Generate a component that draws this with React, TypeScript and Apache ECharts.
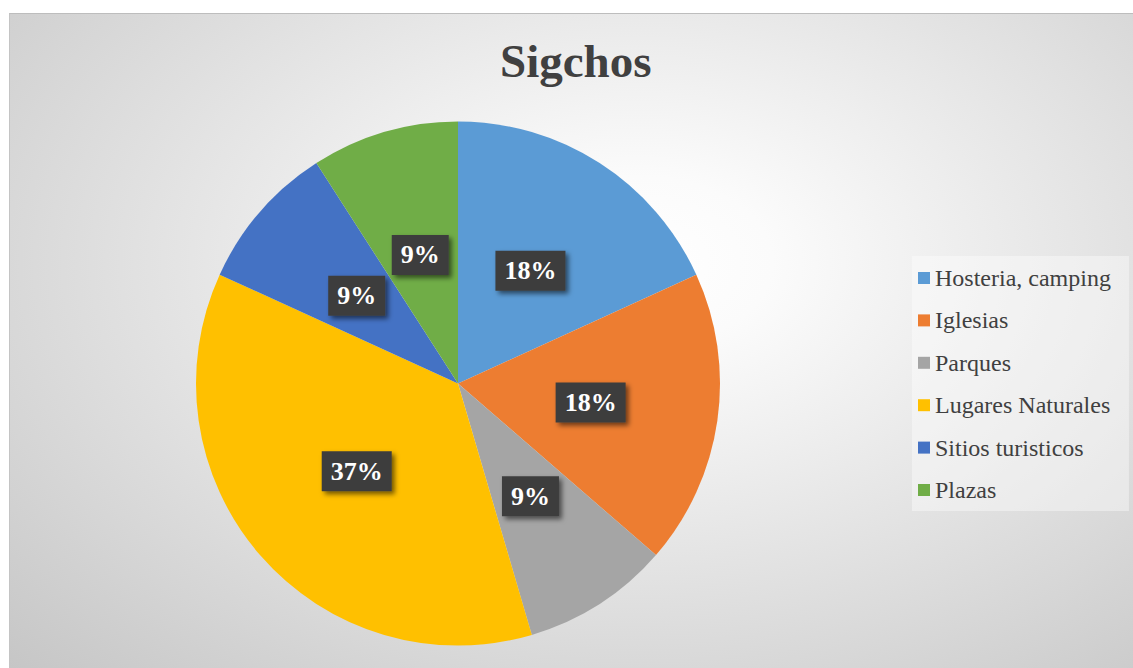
import React, { useEffect, useRef } from "react";
import * as echarts from "echarts";

const categories = ["Hosteria, camping", "Iglesias", "Parques", "Lugares Naturales", "Sitios turisticos", "Plazas"];
const values = [18.2, 18.2, 9.1, 36.4, 9.1, 9.1];
const percentLabels = ["18%", "18%", "9%", "37%", "9%", "9%"];
const colors = ["#5B9BD5", "#ED7D31", "#A5A5A5", "#FFC000", "#4472C4", "#70AD47"];
const titleText = "Sigchos";

export default function App() {
  const ref = useRef<HTMLDivElement>(null);
  useEffect(() => {
    if (!ref.current) return;
    const chart = echarts.init(ref.current, null, { renderer: "svg" });
    const data = categories.map((name, i) => ({ name, value: values[i], itemStyle: { color: colors[i] } }));
    chart.setOption({
      animation: false,
      backgroundColor: "transparent",
      title: {
        text: titleText,
        left: 490,
        top: 23,
        padding: 0,
        textStyle: { fontFamily: "Liberation Serif", fontWeight: "bold", fontSize: 47, color: "#404040", lineHeight: 47 },
      },
      legend: {
        orient: "vertical",
        left: 902,
        top: 242,
        padding: [10, 18, 9, 6],
        backgroundColor: "rgba(255,255,255,0.4)",
        itemWidth: 12,
        itemHeight: 12,
        itemGap: 18.4,
        icon: "rect",
        selectedMode: false,
        textStyle: { fontFamily: "Liberation Serif", fontSize: 24, color: "#404040", lineHeight: 24, padding: [0, 0, 0, 0] },
        data: categories,
      },
      series: [
        {
          type: "pie",
          center: [448, 369.5],
          radius: [0, 262],
          startAngle: 90,
          clockwise: true,
          silent: true,
          data,
          itemStyle: { borderWidth: 0 },
          label: {
            show: true,
            position: "inside",
            formatter: (p: any) => percentLabels[p.dataIndex],
            fontFamily: "Liberation Serif",
            fontWeight: "bold",
            fontSize: 26,
            lineHeight: 26,
            color: "#ffffff",
            backgroundColor: "#3d3d3d",
            padding: [7, 9, 7, 9],
            shadowColor: "rgba(0,0,0,0.55)",
            shadowBlur: 5,
            shadowOffsetX: 3,
            shadowOffsetY: 3,
          },
          labelLine: { show: false },
          emphasis: { disabled: true },
        },
      ],
    });
    return () => chart.dispose();
  }, []);
  return (
    <div
      style={{
        position: "absolute",
        left: 9,
        top: 13,
        width: 1124,
        height: 655,
        boxSizing: "border-box",
        borderTop: "1px solid #bdbdbd",
        borderLeft: "1px solid #c4c4c4",
        background: "radial-gradient(ellipse farthest-corner at 56% 38%, #ffffff 0%, #fbfbfb 15%, #c6c6c6 100%)",
      }}
    >
      <div ref={ref} style={{ width: 1123, height: 654 }} />
    </div>
  );
}
